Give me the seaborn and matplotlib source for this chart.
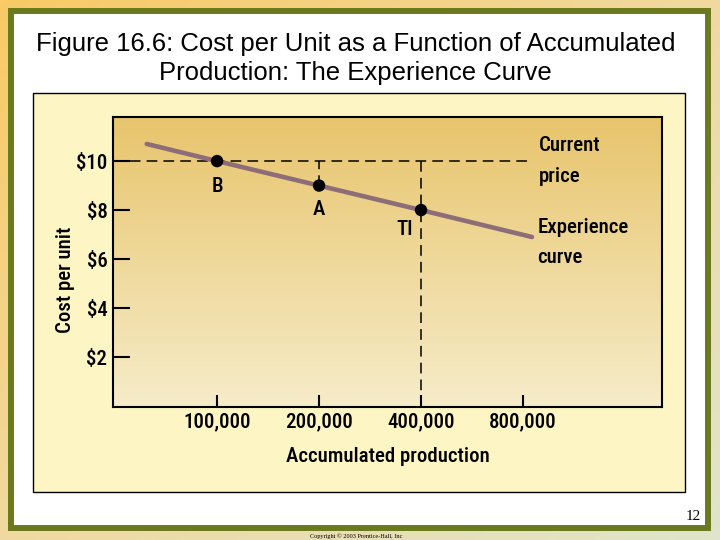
import matplotlib
matplotlib.use("Agg")
import matplotlib.pyplot as plt
import matplotlib.patches as patches
from matplotlib.colors import LinearSegmentedColormap
import numpy as np
import seaborn as sns

# values
production = [62000, 100000, 200000, 400000, 850000]
cost = [10.7, 10.0, 9.0, 8.0, 6.9]
point_names = ["B", "A", "TI"]
point_production = [100000, 200000, 400000]
point_cost = [10.0, 9.0, 8.0]
current_price = 10.0
price_line_end = 840000
x_ticks = [100000, 200000, 400000, 800000]
x_tick_labels = ["100,000", "200,000", "400,000", "800,000"]
y_ticks = [2, 4, 6, 8, 10]
y_tick_labels = ["$2", "$4", "$6", "$8", "$10"]
x_range = (49300, 2057000)
y_range = (-0.04, 11.8)

sns.set_style("ticks")
narrow = ["Roboto Condensed", "Liberation Sans Narrow", "DejaVu Sans"]
plt.rcParams["font.family"] = ["Liberation Sans", "DejaVu Sans"]
plt.rcParams.update({"text.color": "black", "axes.labelcolor": "black",
                     "xtick.color": "black", "ytick.color": "black"})

W, H = 720, 540
fig = plt.figure(figsize=(7.2, 5.4), dpi=100)


def fx(px):
    return px / W


def fy(py):
    return 1 - py / H


# slide background: diagonal gradient orange -> pale green
bg = fig.add_axes([0, 0, 1, 1], zorder=-10)
gx, gy = np.meshgrid(np.linspace(0, 1, 200), np.linspace(0, 1, 150))
bg_cmap = LinearSegmentedColormap.from_list("bg", ["#f9ca66", "#f1d9a0", "#dfe5cb"])
bg.imshow((gx + gy) / 2, cmap=bg_cmap, aspect="auto", extent=[0, 1, 0, 1], origin="upper")
bg.set_axis_off()

# green frame with white slide inside
fig.patches.append(patches.Rectangle((fx(11), fy(528)), fx(697), 517 / H, transform=fig.transFigure,
                                     facecolor="white", edgecolor="#6b7a1c", lw=4.3, zorder=-5))
# pale yellow panel behind the chart
fig.patches.append(patches.Rectangle((fx(33), fy(492)), fx(652), 399 / H, transform=fig.transFigure,
                                     facecolor="#fdf5c3", edgecolor="black", lw=1.0, zorder=-4))

fig.text(0.494, fy(44), "Figure 16.6: Cost per Unit as a Function of Accumulated",
         ha="center", va="center", fontsize=18.5)
fig.text(0.494, fy(73), "Production: The Experience Curve", ha="center", va="center", fontsize=18.5)

ax = fig.add_axes([fx(113), fy(407), fx(549), 290 / H])
grad = np.linspace(0, 1, 100).reshape(-1, 1)
ax_cmap = LinearSegmentedColormap.from_list("ax", ["#e8c56d", "#f6ecc9"])
ax.imshow(grad, cmap=ax_cmap, aspect="auto", extent=[0, 1, 0, 1], origin="upper",
          transform=ax.transAxes, zorder=0)

ax.set_xscale("log", base=2)

# reference dashes
dash = dict(color="black", lw=1.1, linestyle=(0, (7, 4)), zorder=2)
ax.plot([x_range[0], price_line_end], [current_price, current_price], **dash)
ax.plot([point_production[1]] * 2, [point_cost[1], current_price], **dash)
ax.plot([point_production[2]] * 2, [y_range[0], current_price], **dash)

sns.lineplot(x=production, y=cost, ax=ax, color="#8d6d78", lw=3.3, zorder=3)
sns.scatterplot(x=point_production, y=point_cost, ax=ax, s=80, color="black",
                edgecolor="none", zorder=4)

fs = 15
lab = dict(fontsize=fs, family=narrow, stretch="condensed", weight="medium",
           textcoords="offset points", va="center")
ax.annotate(point_names[0], (point_production[0], point_cost[0]), xytext=(0, -18), ha="center", **lab)
ax.annotate(point_names[1], (point_production[1], point_cost[1]), xytext=(0, -17), ha="center", **lab)
ax.annotate(point_names[2], (point_production[2], point_cost[2]), xytext=(-6, -14), ha="right", **lab)
ax.annotate("Current\nprice", (price_line_end, current_price), xytext=(6, 0), ha="left",
            linespacing=1.75, **lab)
ax.annotate("Experience\ncurve", (production[-1], cost[-1]), xytext=(4, -4), ha="left",
            linespacing=1.75, **lab)

tick_font = dict(family=narrow, stretch="condensed", weight="medium", fontsize=fs)
ax.set_xlim(x_range)
ax.set_ylim(y_range)
ax.set_xticks(x_ticks)
ax.set_xticklabels(x_tick_labels, **tick_font)
ax.minorticks_off()
ax.set_yticks(y_ticks)
ax.set_yticklabels(y_tick_labels, **tick_font)
ax.tick_params(axis="x", direction="in", length=9, width=1.5, pad=4)
ax.tick_params(axis="y", direction="in", length=12, width=1.5, pad=4)
for s in ax.spines.values():
    s.set_visible(True)
    s.set_color("black")
    s.set_linewidth(1.5)

ax.set_xlabel("Accumulated production", **tick_font)
ax.xaxis.set_label_coords(0.5, -0.172)
ax.xaxis.label.set_va("center")
ax.set_ylabel("Cost per unit", **tick_font)
ax.yaxis.set_label_coords(-0.087, 0.438)
ax.yaxis.label.set_va("center")

fig.text(fx(701), fy(516), "12", ha="right", va="center", fontsize=11,
         family=["Liberation Serif", "DejaVu Serif"])
fig.text(fx(310), fy(536), "Copyright \u00a9 2003 Prentice-Hall, Inc", ha="left", va="center",
         fontsize=4.5, family=["Liberation Serif", "DejaVu Serif"])

fig.savefig("out.png", dpi=100)
